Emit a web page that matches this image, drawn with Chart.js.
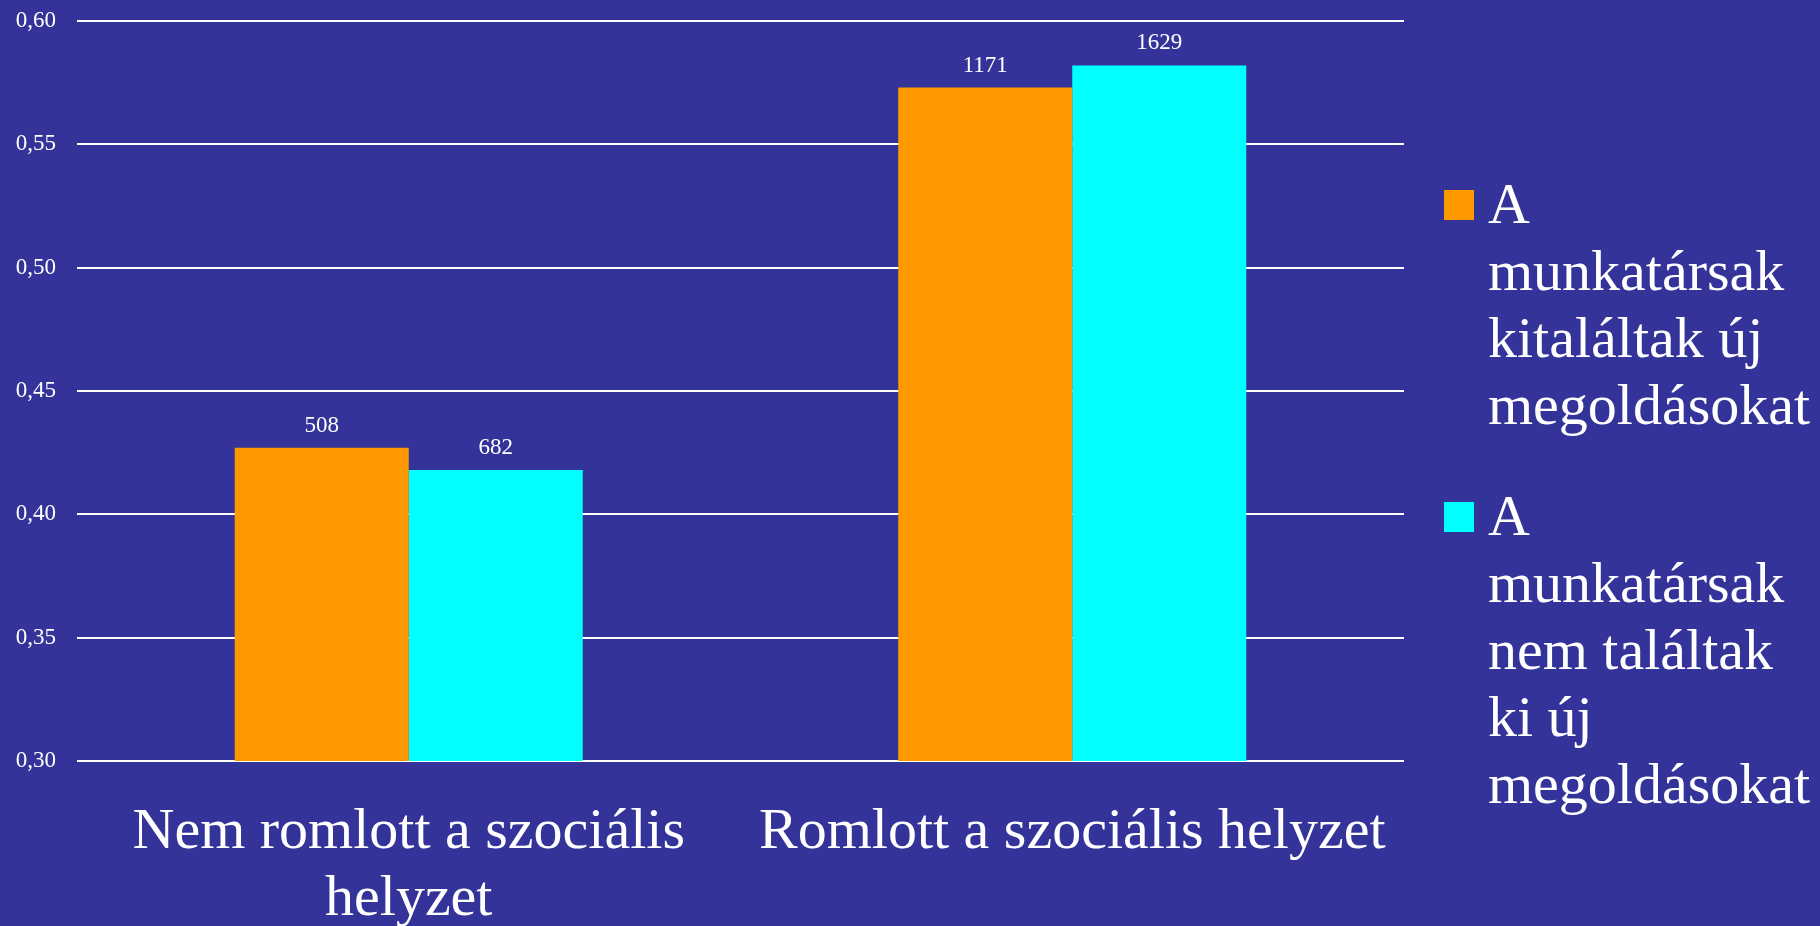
<!DOCTYPE html>
<html>
<head>
<meta charset="utf-8">
<script src="https://cdn.jsdelivr.net/npm/chart.js@4/dist/chart.umd.min.js"></script>
<style>
  html, body { margin: 0; padding: 0; background: #333399; overflow: hidden; }
  canvas { display: block; }
</style>
</head>
<body>
<canvas id="c" width="1820" height="926"></canvas>
<script>
// ---- data ----
const categories = [['Nem romlott a szociális', 'helyzet'], 'Romlott a szociális helyzet'];
const seriesNames = ['A munkatársak kitaláltak új megoldásokat', 'A munkatársak nem találtak ki új megoldásokat'];
const legendLines1 = ['A', 'munkatársak', 'kitaláltak új', 'megoldásokat'];
const legendLines2 = ['A', 'munkatársak', 'nem találtak', 'ki új', 'megoldásokat'];
const foundValues = [0.427, 0.573];
const notFoundValues = [0.418, 0.582];
const foundCounts = ['508', '1171'];
const notFoundCounts = ['682', '1629'];
const yTickLabels = ['0,30', '0,35', '0,40', '0,45', '0,50', '0,55', '0,60'];

const FONT = '"Liberation Serif", "Times New Roman", serif';

const countLabels = {
  id: 'countLabels',
  afterDatasetsDraw(chart) {
    const ctx = chart.ctx;
    ctx.save();
    ctx.fillStyle = '#ffffff';
    ctx.font = '23px ' + FONT;
    ctx.textAlign = 'center';
    ctx.textBaseline = 'alphabetic';
    chart.data.datasets.forEach((ds, di) => {
      const meta = chart.getDatasetMeta(di);
      meta.data.forEach((el, i) => {
        ctx.fillText(ds.counts[i], el.x, el.y - 16);
      });
    });
    ctx.restore();
  }
};

const sideLegend = {
  id: 'sideLegend',
  afterDraw(chart) {
    const ctx = chart.ctx;
    const x0 = chart.chartArea.right + 40;
    const lh = 67;
    let base = 223;
    ctx.save();
    ctx.font = '58px ' + FONT;
    ctx.textAlign = 'left';
    ctx.textBaseline = 'alphabetic';
    chart.data.datasets.forEach((ds) => {
      ctx.fillStyle = ds.backgroundColor;
      ctx.fillRect(x0, base - 33, 30, 30);
      ctx.fillStyle = '#ffffff';
      ds.legendLines.forEach((line, k) => {
        ctx.fillText(line, x0 + 44, base + k * lh);
      });
      base += (ds.legendLines.length - 1) * lh + 111;
    });
    ctx.restore();
  }
};

new Chart(document.getElementById('c'), {
  type: 'bar',
  data: {
    labels: categories,
    datasets: [
      { label: seriesNames[0], data: foundValues, counts: foundCounts, legendLines: legendLines1,
        backgroundColor: '#FF9900', borderWidth: 0 },
      { label: seriesNames[1], data: notFoundValues, counts: notFoundCounts, legendLines: legendLines2,
        backgroundColor: '#00FFFF', borderWidth: 0 }
    ]
  },
  options: {
    responsive: false,
    animation: false,
    devicePixelRatio: 1,
    layout: { padding: { top: 21, right: 416, left: 0, bottom: 0 } },
    plugins: { legend: { display: false }, tooltip: { enabled: false } },
    datasets: { bar: { categoryPercentage: 0.5245, barPercentage: 1.0 } },
    scales: {
      x: {
        grid: { display: false, drawTicks: false },
        border: { display: false },
        ticks: {
          color: '#ffffff',
          font: { family: FONT, size: 58, lineHeight: 1.155 },
          maxRotation: 0, autoSkip: false, padding: 38
        },
        afterFit(scale) { scale.height = 165; scale.paddingLeft = 0; scale.paddingRight = 0; }
      },
      y: {
        min: 0.30, max: 0.60,
        grid: { color: '#ffffff', lineWidth: 2, drawTicks: false },
        border: { display: false },
        ticks: {
          stepSize: 0.05,
          color: '#ffffff',
          font: { family: FONT, size: 23 },
          padding: 21,
          callback: (v, i) => yTickLabels[i]
        },
        afterFit(scale) { scale.width = 77; scale.paddingTop = 0; scale.paddingBottom = 0; }
      }
    }
  },
  plugins: [countLabels, sideLegend]
});
</script>
</body>
</html>
